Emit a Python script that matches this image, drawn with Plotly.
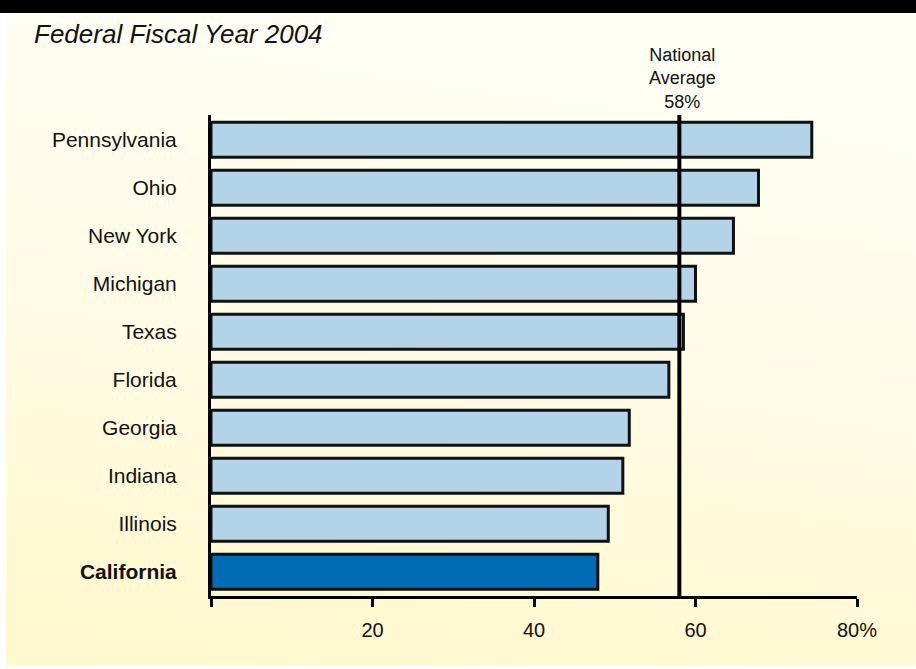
import base64
import plotly.graph_objects as go

# Participation rates by state, Federal Fiscal Year 2004 (percent)
states = ["Pennsylvania", "Ohio", "New York", "Michigan", "Texas",
          "Florida", "Georgia", "Indiana", "Illinois", "California"]
rates = [74.4, 67.8, 64.7, 60.0, 58.5, 56.7, 51.8, 51.0, 49.2, 47.9]
highlight_state = "California"
national_average = 58

x_tick_values = [0, 20, 40, 60, 80]
x_tick_labels = ["", "20", "40", "60", "80%"]
title_text = "Federal Fiscal Year 2004"
average_label = "National<br>Average<br>58%"

# ---- page geometry -------------------------------------------------------
W, H = 916, 669
ML, MR, MT, MB = 211, 59, 115, 73
PW, PH = W - ML - MR, H - MT - MB


def paper_x(px):
    return (px - ML) / PW


def paper_y(py):
    return (H - MB - py) / PH


FONT = "Liberation Sans, Arial, Helvetica, sans-serif"
LIGHT = "#b3d3e8"
DARK = "#006cb5"

# bottom-to-top order for the category axis
cats = states[::-1]
vals = rates[::-1]
colors = [DARK if s == highlight_state else LIGHT for s in cats]
tick_text = [f"<b>{s}</b>" if s == highlight_state else s for s in cats]

fig = go.Figure(
    go.Bar(
        x=vals,
        y=cats,
        orientation="h",
        width=0.73,
        marker=dict(color=colors, line=dict(color="#111111", width=3)),
        hoverinfo="x+y",
    )
)

# soft cream-to-yellow backdrop
svg = (
    '<svg xmlns="http://www.w3.org/2000/svg" width="100" height="100" '
    'viewBox="0 0 100 100" preserveAspectRatio="none">'
    '<defs><linearGradient id="g" x1="0.2" y1="0" x2="0" y2="1">'
    '<stop offset="0" stop-color="#fffef3"/>'
    '<stop offset="0.5" stop-color="#fffbe2"/>'
    '<stop offset="1" stop-color="#fff8cb"/>'
    '</linearGradient></defs>'
    '<rect width="100" height="100" fill="url(#g)"/></svg>'
)
bg_src = "data:image/svg+xml;base64," + base64.b64encode(svg.encode()).decode()

fig.add_layout_image(
    source=bg_src,
    xref="paper", yref="paper",
    x=paper_x(6), y=paper_y(14),
    sizex=(W - 6) / PW, sizey=(665 - 14) / PH,
    xanchor="left", yanchor="top",
    sizing="stretch", layer="below",
)

# black band across the top of the page
fig.add_shape(
    type="rect", xref="paper", yref="paper",
    x0=paper_x(0), x1=paper_x(W), y0=paper_y(13), y1=paper_y(0),
    fillcolor="black", line=dict(width=0), layer="above",
)

# national average reference line
fig.add_shape(
    type="line", xref="x", yref="paper",
    x0=national_average, x1=national_average, y0=0, y1=1,
    line=dict(color="black", width=4), layer="above",
)

fig.add_annotation(
    text=average_label, xref="x", yref="paper",
    x=national_average, y=paper_y(78), xanchor="center", yanchor="middle",
    xshift=3,
    showarrow=False, align="center",
    font=dict(family=FONT, size=18, color="#111111"),
)

fig.add_annotation(
    text=f"<i>{title_text}</i>", xref="paper", yref="paper",
    x=paper_x(32), y=paper_y(34), xanchor="left", yanchor="middle",
    showarrow=False,
    font=dict(family=FONT, size=26, color="#111111"),
)

fig.update_layout(
    width=W, height=H,
    margin=dict(l=ML, r=MR, t=MT, b=MB, pad=0),
    paper_bgcolor="white",
    plot_bgcolor="rgba(0,0,0,0)",
    showlegend=False,
    font=dict(family=FONT, color="#111111"),
    xaxis=dict(
        range=[0, 80],
        tickvals=x_tick_values, ticktext=x_tick_labels,
        ticks="outside", ticklen=8, tickwidth=2.5, tickcolor="black",
        showline=True, linecolor="black", linewidth=2.5,
        showgrid=False, zeroline=False,
        tickfont=dict(family=FONT, size=20, color="#111111"),
        ticklabelstandoff=6,
        fixedrange=True,
    ),
    yaxis=dict(
        type="category",
        categoryorder="array", categoryarray=cats,
        tickvals=cats, ticktext=tick_text,
        range=[-0.506, 9.515],
        ticks="", showline=True, linecolor="black", linewidth=3,
        showgrid=False, zeroline=False,
        tickfont=dict(family=FONT, size=21, color="#111111"),
        ticklabelstandoff=27,
        fixedrange=True,
    ),
)

fig.write_html("out.html")
